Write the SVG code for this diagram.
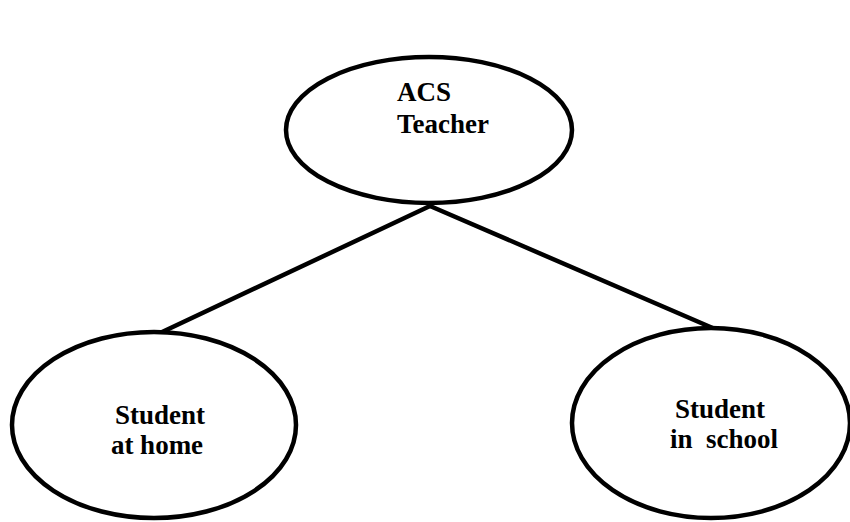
<svg xmlns="http://www.w3.org/2000/svg" width="850" height="522" viewBox="0 0 850 522">
<style>
.n{fill:#fff;stroke:#000;stroke-width:4.5}
.t{font-family:"Liberation Serif","Times New Roman",serif;font-weight:bold;font-size:27px;fill:#000}
.c{stroke:#000;stroke-width:4.5;fill:none;stroke-linecap:round}
</style>
<rect width="850" height="522" fill="#fff"/>
<g id="connectors">
<line class="c" x1="430" y1="206" x2="160" y2="333"/>
<line class="c" x1="430" y1="206" x2="715" y2="329"/>
</g>
<g id="teacher">
<ellipse class="n" cx="429" cy="130" rx="143" ry="73"/>
<text class="t" x="397" y="101">ACS</text>
<text class="t" x="397" y="133">Teacher</text>
</g>
<g id="home">
<ellipse class="n" cx="154" cy="425" rx="142" ry="93"/>
<text class="t" x="160" y="424" text-anchor="middle">Student</text>
<text class="t" x="157" y="454" text-anchor="middle">at home</text>
</g>
<g id="school">
<ellipse class="n" cx="711" cy="423" rx="139" ry="95"/>
<text class="t" x="720" y="418" text-anchor="middle">Student</text>
<text class="t" x="724" y="448" text-anchor="middle">in&#160; school</text>
</g>
</svg>
